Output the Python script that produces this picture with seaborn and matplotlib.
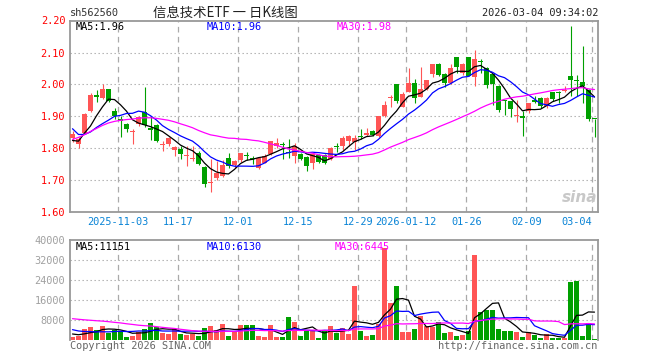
import numpy as np
import pandas as pd
import matplotlib
matplotlib.use("Agg")
import matplotlib.pyplot as plt
import seaborn as sns

# daily K data for sh562560, 2025-10-22 .. 2026-03-04 (88 sessions)
open_ = [1.832, 1.812, 1.847, 1.915, 1.967, 1.956, 1.985, 1.917, 1.892, 1.876,
         1.849, 1.876, 1.913, 1.862, 1.873, 1.809, 1.813, 1.795, 1.798, 1.774,
         1.766, 1.784, 1.739, 1.689, 1.705, 1.712, 1.770, 1.748, 1.761, 1.776,
         1.766, 1.736, 1.754, 1.782, 1.806, 1.810, 1.788, 1.775, 1.781, 1.772,
         1.752, 1.779, 1.779, 1.765, 1.804, 1.807, 1.823, 1.818, 1.837, 1.840,
         1.854, 1.839, 1.901, 1.956, 2.000, 1.930, 1.977, 2.003, 1.961, 1.987,
         2.034, 2.064, 2.033, 2.003, 2.085, 2.035, 2.085, 2.023, 2.073, 2.051,
         2.032, 1.996, 1.948, 1.947, 1.901, 1.902, 1.916, 1.952, 1.957, 1.931,
         1.975, 1.974, 1.978, 2.027, 2.014, 2.008, 1.983, 1.892]
high = [1.855, 1.835, 1.910, 1.972, 1.982, 2.000, 1.987, 1.926, 1.900, 1.880,
        1.860, 1.900, 1.993, 1.900, 1.875, 1.823, 1.836, 1.807, 1.807, 1.805,
        1.807, 1.790, 1.742, 1.765, 1.758, 1.762, 1.785, 1.762, 1.785, 1.789,
        1.775, 1.770, 1.780, 1.821, 1.833, 1.819, 1.827, 1.817, 1.783, 1.775,
        1.783, 1.781, 1.782, 1.802, 1.816, 1.838, 1.842, 1.842, 1.860, 1.862,
        1.858, 1.902, 1.948, 1.967, 2.001, 1.975, 2.050, 2.016, 2.055, 2.013,
        2.064, 2.066, 2.035, 2.064, 2.087, 2.066, 2.087, 2.108, 2.079, 2.056,
        2.034, 1.998, 1.952, 1.949, 1.952, 1.916, 1.942, 1.962, 1.959, 1.959,
        1.977, 1.979, 1.994, 2.183, 2.030, 2.121, 1.985, 1.892]
low = [1.820, 1.800, 1.845, 1.912, 1.946, 1.953, 1.945, 1.890, 1.836, 1.849,
       1.813, 1.870, 1.865, 1.826, 1.820, 1.790, 1.805, 1.774, 1.766, 1.743,
       1.758, 1.748, 1.678, 1.662, 1.700, 1.709, 1.737, 1.736, 1.755, 1.762,
       1.750, 1.733, 1.752, 1.778, 1.800, 1.765, 1.770, 1.754, 1.762, 1.728,
       1.733, 1.752, 1.750, 1.763, 1.786, 1.795, 1.805, 1.795, 1.828, 1.837,
       1.837, 1.836, 1.899, 1.930, 1.940, 1.928, 1.975, 1.943, 1.959, 1.982,
       2.024, 2.026, 1.993, 2.001, 2.035, 2.030, 2.025, 1.994, 2.035, 1.989,
       1.936, 1.913, 1.905, 1.897, 1.881, 1.838, 1.910, 1.941, 1.926, 1.926,
       1.948, 1.942, 1.975, 1.963, 1.963, 1.942, 1.884, 1.835]
close = [1.845, 1.828, 1.907, 1.967, 1.960, 1.985, 1.949, 1.900, 1.885, 1.860,
         1.850, 1.897, 1.872, 1.857, 1.823, 1.810, 1.830, 1.803, 1.780, 1.775,
         1.770, 1.751, 1.688, 1.692, 1.723, 1.748, 1.742, 1.760, 1.783, 1.774,
         1.764, 1.768, 1.775, 1.821, 1.815, 1.808, 1.784, 1.807, 1.765, 1.744,
         1.781, 1.756, 1.752, 1.800, 1.802, 1.830, 1.838, 1.830, 1.835, 1.847,
         1.840, 1.900, 1.935, 1.958, 1.948, 1.970, 2.003, 1.956, 1.984, 2.013,
         2.064, 2.029, 2.005, 2.051, 2.056, 2.064, 2.027, 2.079, 2.071, 1.997,
         2.001, 1.918, 1.947, 1.924, 1.902, 1.893, 1.940, 1.944, 1.931, 1.957,
         1.955, 1.973, 1.983, 2.015, 2.012, 1.994, 1.892, 1.890]
volume = [1200, 1730, 4400, 5200, 4000, 5600, 2800, 4000, 3730, 1200,
          1730, 3330, 4400, 6800, 5070, 2930, 2530, 4400, 2400, 1870,
          2400, 1730, 4800, 5600, 4000, 6530, 1600, 3330, 6000, 6000,
          6000, 1600, 1200, 6000, 1200, 1200, 9200, 7200, 1730, 4000,
          4000, 800, 3470, 5600, 3000, 4930, 2530, 21700, 3600, 1600,
          2000, 6400, 36670, 14930, 21600, 3330, 3200, 4400, 9420, 5700,
          5300, 7400, 2670, 3330, 1600, 1870, 3700, 34000, 11300, 12200,
          12100, 4600, 3600, 3600, 3200, 1070, 3400, 2000, 900, 2300,
          900, 640, 800, 23200, 23700, 1450, 7000, 405]

# sessions before the window, only needed to warm up the moving averages
pre_close = [1.64, 1.65, 1.66, 1.68, 1.697, 1.72, 1.75, 1.784, 1.79, 1.80,
             1.82, 1.83, 1.856, 1.88, 1.90, 1.92, 1.95, 1.966, 1.95, 1.964,
             2.008, 1.907, 1.887, 1.82, 1.865, 1.839, 1.78, 1.855, 1.80]
pre_volume = [9000, 11000, 10500, 9500, 10200, 9530, 12000, 10500, 11500, 9800,
              12500, 10290, 10500, 13000, 11200, 9500, 10800, 12200, 10000, 11000,
              7000, 6500, 5500, 5380, 5000, 3200, 2600, 2800, 2200]

date_idx = [8, 18, 28, 38, 48, 56, 66, 76, 87]
date_labels = ["2025-11-03", "11-17", "12-01", "12-15", "12-29",
               "2026-01-12", "01-26", "02-09", "03-04"]
price_ticks = [1.60, 1.70, 1.80, 1.90, 2.00, 2.10]
vol_ticks = [8000, 16000, 24000, 32000, 40000]

RED = "#ff5555"
GREEN = "#00a000"
GRID = "#aaaaaa"
FRAME = "#999999"

# build frame + moving averages
n_pre = len(pre_close)
df = pd.DataFrame({"o": open_, "h": high, "l": low, "c": close, "vol": volume})
df["i"] = np.arange(len(df))
df["dir"] = np.where(df["c"] >= df["o"], "up", "down")
all_c = pd.Series(pre_close + close)
all_v = pd.Series(pre_volume + volume)
for n in (5, 10, 30):
    df[f"ma{n}"] = all_c.rolling(n).mean().iloc[n_pre:].values
    df[f"vma{n}"] = all_v.rolling(n).mean().iloc[n_pre:].values

sns.set_style("white")
plt.rcParams["font.family"] = ["DejaVu Sans Mono", "Noto Sans CJK SC"]
plt.rcParams["font.size"] = 7.4

W, H = 660, 360
fig = plt.figure(figsize=(W / 100, H / 100), dpi=100)
ax1 = fig.add_axes([70 / W, 1 - 211.7 / H, 528 / W, 191 / H])
ax2 = fig.add_axes([70 / W, 1 - 340 / H, 528 / W, 100 / H])

xlim = (-2.5 / 6, 525.5 / 6)
dash_x = [i - 0.37 for i in date_idx]
colors = df["dir"].map({"up": RED, "down": GREEN})

# ---- price panel
for y in price_ticks[1:]:
    ax1.axhline(y, color=GRID, lw=0.8, ls=(0, (1.2, 2.4)), zorder=0)
for x in dash_x:
    ax1.axvline(x, color=GRID, lw=0.9, ls=(0, (4.5, 3.5)), zorder=0)

ax1.vlines(df["i"], df["l"], df["h"], colors=colors, lw=0.8, zorder=2)
body = (df["c"] - df["o"]).abs().clip(lower=0.0032)
ax1.bar(df["i"], body, bottom=df[["o", "c"]].min(axis=1), width=0.8,
        color=colors, linewidth=0, zorder=3)

sns.lineplot(x=df["i"], y=df["ma5"], color="black", lw=0.9, ax=ax1, zorder=4)
sns.lineplot(x=df["i"], y=df["ma10"], color="#0000ff", lw=0.9, ax=ax1, zorder=4)
sns.lineplot(x=df["i"], y=df["ma30"], color="#ff00ff", lw=0.9, ax=ax1, zorder=4)

ax1.set_xlim(*xlim)
ax1.set_ylim(1.60, 2.20)
ax1.set_yticks(price_ticks)
ax1.set_yticklabels([f"{v:.2f}" for v in price_ticks], color="#ff0000")
ax1.set_xticks([])
ax1.set_xlabel("")
ax1.set_ylabel("")
ax1.tick_params(axis="y", length=0, pad=3.5)
for x, lab in zip(dash_x, date_labels):
    ha = "right" if lab == date_labels[-1] else "center"
    ax1.text(x, -0.052, lab, transform=ax1.get_xaxis_transform(),
             ha=ha, va="center", color="#0a84d6", clip_on=False)

# ---- volume panel
for y in vol_ticks[:-1]:
    ax2.axhline(y, color=GRID, lw=0.8, ls=(0, (1.2, 2.4)), zorder=0)
for x in dash_x:
    ax2.axvline(x, color=GRID, lw=0.9, ls=(0, (4.5, 3.5)), zorder=0)

sns.barplot(data=df, x="i", y="vol", hue="dir", palette={"up": RED, "down": GREEN},
            native_scale=True, dodge=False, width=0.8, saturation=1,
            linewidth=0, legend=False, ax=ax2, zorder=2)
sns.lineplot(x=df["i"], y=df["vma5"], color="black", lw=0.9, ax=ax2, zorder=4)
sns.lineplot(x=df["i"], y=df["vma10"], color="#0000ff", lw=0.9, ax=ax2, zorder=4)
sns.lineplot(x=df["i"], y=df["vma30"], color="#ff00ff", lw=0.9, ax=ax2, zorder=4)

ax2.set_xlim(*xlim)
ax2.set_ylim(0, 40000)
ax2.set_yticks(vol_ticks)
ax2.set_yticklabels([str(v) for v in vol_ticks], color="#a0a0a0")
ax2.set_xticks([])
ax2.set_xlabel("")
ax2.set_ylabel("")
ax2.tick_params(axis="y", length=0, pad=3.5)

for ax in (ax1, ax2):
    for s in ax.spines.values():
        s.set_color(FRAME)
        s.set_linewidth(1.3)
ax2.spines["bottom"].set_visible(False)


def ftext(x, y, s, **kw):
    fig.text(x / W, 1 - y / H, s, va="center", **kw)


# header
ftext(70, 13, "sh562560", color="#333333")
ftext(153, 13, "信息技术ETF 一 日K线图", fontsize=9.6,
      family=["Noto Sans CJK SC", "DejaVu Sans"], color="#222222")
ftext(598, 13, "2026-03-04 09:34:02", ha="right", color="#222222")
ftext(66, 21, "2.20", ha="right", color="#ff0000")

# MA legends
ftext(76, 27, f"MA5:{df['ma5'].iloc[-1]:.2f}", color="black")
ftext(207, 27, f"MA10:{df['ma10'].iloc[-1]:.2f}", color="#0000ff")
ftext(337, 27, f"MA30:{df['ma30'].iloc[-1]:.2f}", color="#ff00ff")
ftext(76, 247, f"MA5:{df['vma5'].iloc[-1]:.0f}", color="black")
ftext(207, 247, f"MA10:{df['vma10'].iloc[-1]:.0f}", color="#0000ff")
ftext(335, 247, f"MA30:{df['vma30'].iloc[-1]:.0f}", color="#ff00ff")

# footer + watermark
ftext(70, 346, "Copyright 2026 SINA.COM", color="#666666")
ftext(597, 346, "http://finance.sina.com.cn", ha="right", color="#666666")
ftext(580, 197, "sina", ha="center", fontsize=11, fontstyle="italic",
      fontweight="bold", color="#c8c8c8", family="DejaVu Sans")

fig.savefig("out.png", dpi=100)
